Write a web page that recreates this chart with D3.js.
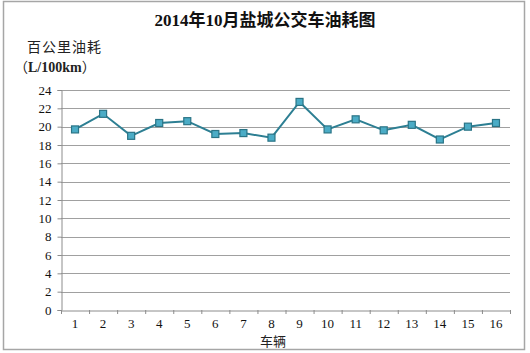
<!DOCTYPE html>
<html><head><meta charset="utf-8">
<script src="https://cdn.jsdelivr.net/npm/d3@7"></script>
<style>
body{margin:0;background:#fff;}
text{font-family:"Liberation Serif","Times New Roman","Noto Sans CJK SC",serif;}
</style></head>
<body>
<svg id="c" width="530" height="353"></svg>
<script>
const categories = ["1","2","3","4","5","6","7","8","9","10","11","12","13","14","15","16"];
const values = [19.7,21.4,19.0,20.4,20.6,19.2,19.3,18.8,22.7,19.7,20.8,19.6,20.2,18.6,20.0,20.4];
const yTicks = [0,2,4,6,8,10,12,14,16,18,20,22,24];
const title = "2014年10月盐城公交车油耗图";
const yTitle1 = "百公里油耗";
const yTitle2 = ["（","L/100km","）"];
const xTitle = "车辆";

const svg = d3.select("#c");
svg.append("rect").attr("x",3.5).attr("y",1.5).attr("width",521).attr("height",348)
  .attr("fill","#fff").attr("stroke","#a6a6a6").attr("stroke-width",1.5);

const L=61, R=510, T=90, B=310;
const x = d3.scaleBand().domain(categories).range([L,R]);
const y = d3.scaleLinear().domain([0,24]).range([B,T]);

// grid
svg.append("g").selectAll("line").data(yTicks.filter(d=>d>0)).join("line")
  .attr("x1",L).attr("x2",R).attr("y1",d=>Math.round(y(d))+0.5).attr("y2",d=>Math.round(y(d))+0.5)
  .attr("stroke","#a0a0a0").attr("stroke-width",1.2);

// y axis
const ya = svg.append("g").attr("transform",`translate(${L+0.5},0)`)
  .call(d3.axisLeft(y).tickValues(yTicks).tickSize(4).tickPadding(6));
ya.select(".domain").attr("stroke","#8c8c8c");
ya.selectAll(".tick line").attr("stroke","#8c8c8c");
ya.selectAll(".tick text").attr("font-size",13).attr("fill","#111");

// x axis
const xa = svg.append("g").attr("transform",`translate(0,${B+0.5})`)
  .call(d3.axisBottom(x).tickSize(0).tickPadding(8));
xa.select(".domain").attr("stroke","#8c8c8c");
xa.selectAll(".tick text").attr("font-size",13).attr("fill","#111");
svg.append("g").selectAll("line").data(categories.concat([""]).map((d,i)=>i)).join("line")
  .attr("x1",i=>L+i*x.bandwidth()+0.5).attr("x2",i=>L+i*x.bandwidth()+0.5)
  .attr("y1",B).attr("y2",B+4).attr("stroke","#8c8c8c");

// line
const line = d3.line().x((d,i)=>x(categories[i])+x.bandwidth()/2).y(d=>y(d));
svg.append("path").datum(values).attr("d",line).attr("fill","none")
  .attr("stroke","#2d7f93").attr("stroke-width",2);
svg.append("g").selectAll("rect").data(values).join("rect")
  .attr("x",(d,i)=>x(categories[i])+x.bandwidth()/2-3.5).attr("y",d=>y(d)-3.5)
  .attr("width",7).attr("height",7).attr("fill","#4bacc6").attr("stroke","#2a7486").attr("stroke-width",1.2);

// titles
svg.append("text").attr("x",265).attr("y",26).attr("text-anchor","middle")
  .attr("font-size",17).attr("font-weight","bold").attr("fill","#111").text(title);
svg.append("text").attr("x",27).attr("y",52).attr("font-size",14).attr("fill","#222")
  .attr("letter-spacing",1).text(yTitle1);
const t2 = svg.append("text").attr("x",14).attr("y",72).attr("font-size",14).attr("font-weight","bold").attr("fill","#222");
t2.append("tspan").style("font-family","'Noto Sans CJK SC'").attr("font-weight","normal").text(yTitle2[0]);
t2.append("tspan").text(yTitle2[1]);
t2.append("tspan").style("font-family","'Noto Sans CJK SC'").attr("font-weight","normal").text(yTitle2[2]);
svg.append("text").attr("x",273).attr("y",346).attr("text-anchor","middle").attr("font-size",13).attr("fill","#222").text(xTitle);
</script>
</body></html>
